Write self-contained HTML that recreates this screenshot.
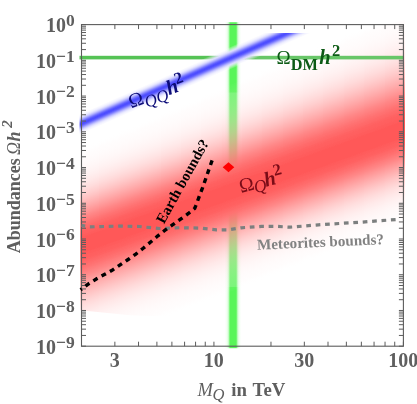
<!DOCTYPE html>
<html><head><meta charset="utf-8"><title>plot</title>
<style>html,body{margin:0;padding:0;background:#fff;}svg{display:block;}text{font-family:"Liberation Serif",serif;}</style></head><body>
<svg width="417" height="404" viewBox="0 0 417 404">
<defs>
<linearGradient id="gv" gradientUnits="userSpaceOnUse" x1="224.6" y1="0" x2="241.6" y2="0"><stop offset="0.0000" stop-color="#58f558" stop-opacity="0"/><stop offset="0.0882" stop-color="#58f558" stop-opacity="0.04"/><stop offset="0.1588" stop-color="#58f558" stop-opacity="0.12"/><stop offset="0.2235" stop-color="#58f558" stop-opacity="0.32"/><stop offset="0.2706" stop-color="#58f558" stop-opacity="0.62"/><stop offset="0.3059" stop-color="#58f558" stop-opacity="0.9"/><stop offset="0.3353" stop-color="#58f558" stop-opacity="1"/><stop offset="0.6647" stop-color="#58f558" stop-opacity="1"/><stop offset="0.6941" stop-color="#58f558" stop-opacity="0.9"/><stop offset="0.7294" stop-color="#58f558" stop-opacity="0.62"/><stop offset="0.7765" stop-color="#58f558" stop-opacity="0.32"/><stop offset="0.8412" stop-color="#58f558" stop-opacity="0.12"/><stop offset="0.9118" stop-color="#58f558" stop-opacity="0.04"/><stop offset="1.0000" stop-color="#58f558" stop-opacity="0"/></linearGradient>
<linearGradient id="r0" gradientUnits="userSpaceOnUse" x1="57.90" y1="155.42" x2="122.45" y2="336.22"><stop offset="0.0000" stop-color="#ffffff" stop-opacity="0"/><stop offset="0.0344" stop-color="rgb(255,228,228)" stop-opacity="0.082"/><stop offset="0.0688" stop-color="rgb(255,220,220)" stop-opacity="0.122"/><stop offset="0.1032" stop-color="rgb(255,210,210)" stop-opacity="0.176"/><stop offset="0.1377" stop-color="rgb(255,199,199)" stop-opacity="0.245"/><stop offset="0.1721" stop-color="rgb(255,187,187)" stop-opacity="0.331"/><stop offset="0.2065" stop-color="rgb(255,174,174)" stop-opacity="0.432"/><stop offset="0.2409" stop-color="rgb(255,160,160)" stop-opacity="0.545"/><stop offset="0.2753" stop-color="rgb(255,146,146)" stop-opacity="0.665"/><stop offset="0.3097" stop-color="rgb(255,134,134)" stop-opacity="0.786"/><stop offset="0.3441" stop-color="rgb(255,122,122)" stop-opacity="0.898"/><stop offset="0.3785" stop-color="rgb(255,113,113)" stop-opacity="0.992"/><stop offset="0.4130" stop-color="rgb(255,98,98)" stop-opacity="1.000"/><stop offset="0.4474" stop-color="rgb(255,89,89)" stop-opacity="1.000"/><stop offset="0.4818" stop-color="rgb(255,88,88)" stop-opacity="1.000"/><stop offset="0.5188" stop-color="rgb(255,89,89)" stop-opacity="1.000"/><stop offset="0.5558" stop-color="rgb(255,98,98)" stop-opacity="1.000"/><stop offset="0.5928" stop-color="rgb(255,113,113)" stop-opacity="0.992"/><stop offset="0.6298" stop-color="rgb(255,122,122)" stop-opacity="0.898"/><stop offset="0.6669" stop-color="rgb(255,134,134)" stop-opacity="0.786"/><stop offset="0.7039" stop-color="rgb(255,146,146)" stop-opacity="0.665"/><stop offset="0.7409" stop-color="rgb(255,160,160)" stop-opacity="0.545"/><stop offset="0.7779" stop-color="rgb(255,174,174)" stop-opacity="0.432"/><stop offset="0.8149" stop-color="rgb(255,187,187)" stop-opacity="0.331"/><stop offset="0.8519" stop-color="rgb(255,199,199)" stop-opacity="0.245"/><stop offset="0.8890" stop-color="rgb(255,210,210)" stop-opacity="0.176"/><stop offset="0.9260" stop-color="rgb(255,220,220)" stop-opacity="0.122"/><stop offset="0.9630" stop-color="rgb(255,228,228)" stop-opacity="0.082"/><stop offset="1.0000" stop-color="#ffffff" stop-opacity="0"/></linearGradient>
<linearGradient id="r1" gradientUnits="userSpaceOnUse" x1="77.94" y1="146.79" x2="142.72" y2="328.27"><stop offset="0.0000" stop-color="#ffffff" stop-opacity="0"/><stop offset="0.0348" stop-color="rgb(255,228,228)" stop-opacity="0.082"/><stop offset="0.0696" stop-color="rgb(255,220,220)" stop-opacity="0.122"/><stop offset="0.1044" stop-color="rgb(255,210,210)" stop-opacity="0.176"/><stop offset="0.1392" stop-color="rgb(255,199,199)" stop-opacity="0.245"/><stop offset="0.1740" stop-color="rgb(255,187,187)" stop-opacity="0.331"/><stop offset="0.2088" stop-color="rgb(255,174,174)" stop-opacity="0.432"/><stop offset="0.2436" stop-color="rgb(255,160,160)" stop-opacity="0.545"/><stop offset="0.2784" stop-color="rgb(255,146,146)" stop-opacity="0.665"/><stop offset="0.3132" stop-color="rgb(255,134,134)" stop-opacity="0.786"/><stop offset="0.3480" stop-color="rgb(255,122,122)" stop-opacity="0.898"/><stop offset="0.3828" stop-color="rgb(255,113,113)" stop-opacity="0.992"/><stop offset="0.4176" stop-color="rgb(255,98,98)" stop-opacity="1.000"/><stop offset="0.4524" stop-color="rgb(255,89,89)" stop-opacity="1.000"/><stop offset="0.4872" stop-color="rgb(255,88,88)" stop-opacity="1.000"/><stop offset="0.5238" stop-color="rgb(255,89,89)" stop-opacity="1.000"/><stop offset="0.5605" stop-color="rgb(255,98,98)" stop-opacity="1.000"/><stop offset="0.5971" stop-color="rgb(255,113,113)" stop-opacity="0.992"/><stop offset="0.6337" stop-color="rgb(255,122,122)" stop-opacity="0.898"/><stop offset="0.6703" stop-color="rgb(255,134,134)" stop-opacity="0.786"/><stop offset="0.7070" stop-color="rgb(255,146,146)" stop-opacity="0.665"/><stop offset="0.7436" stop-color="rgb(255,160,160)" stop-opacity="0.545"/><stop offset="0.7802" stop-color="rgb(255,174,174)" stop-opacity="0.432"/><stop offset="0.8169" stop-color="rgb(255,187,187)" stop-opacity="0.331"/><stop offset="0.8535" stop-color="rgb(255,199,199)" stop-opacity="0.245"/><stop offset="0.8901" stop-color="rgb(255,210,210)" stop-opacity="0.176"/><stop offset="0.9267" stop-color="rgb(255,220,220)" stop-opacity="0.122"/><stop offset="0.9634" stop-color="rgb(255,228,228)" stop-opacity="0.082"/><stop offset="1.0000" stop-color="#ffffff" stop-opacity="0"/></linearGradient>
<linearGradient id="r2" gradientUnits="userSpaceOnUse" x1="97.97" y1="138.16" x2="163.00" y2="320.32"><stop offset="0.0000" stop-color="#ffffff" stop-opacity="0"/><stop offset="0.0352" stop-color="rgb(255,228,228)" stop-opacity="0.082"/><stop offset="0.0704" stop-color="rgb(255,220,220)" stop-opacity="0.122"/><stop offset="0.1056" stop-color="rgb(255,210,210)" stop-opacity="0.176"/><stop offset="0.1407" stop-color="rgb(255,199,199)" stop-opacity="0.245"/><stop offset="0.1759" stop-color="rgb(255,187,187)" stop-opacity="0.331"/><stop offset="0.2111" stop-color="rgb(255,174,174)" stop-opacity="0.432"/><stop offset="0.2463" stop-color="rgb(255,160,160)" stop-opacity="0.545"/><stop offset="0.2815" stop-color="rgb(255,146,146)" stop-opacity="0.665"/><stop offset="0.3167" stop-color="rgb(255,134,134)" stop-opacity="0.786"/><stop offset="0.3518" stop-color="rgb(255,122,122)" stop-opacity="0.898"/><stop offset="0.3870" stop-color="rgb(255,113,113)" stop-opacity="0.992"/><stop offset="0.4222" stop-color="rgb(255,98,98)" stop-opacity="1.000"/><stop offset="0.4574" stop-color="rgb(255,89,89)" stop-opacity="1.000"/><stop offset="0.4926" stop-color="rgb(255,88,88)" stop-opacity="1.000"/><stop offset="0.5288" stop-color="rgb(255,89,89)" stop-opacity="1.000"/><stop offset="0.5651" stop-color="rgb(255,98,98)" stop-opacity="1.000"/><stop offset="0.6013" stop-color="rgb(255,113,113)" stop-opacity="0.992"/><stop offset="0.6376" stop-color="rgb(255,122,122)" stop-opacity="0.898"/><stop offset="0.6738" stop-color="rgb(255,134,134)" stop-opacity="0.786"/><stop offset="0.7100" stop-color="rgb(255,146,146)" stop-opacity="0.665"/><stop offset="0.7463" stop-color="rgb(255,160,160)" stop-opacity="0.545"/><stop offset="0.7825" stop-color="rgb(255,174,174)" stop-opacity="0.432"/><stop offset="0.8188" stop-color="rgb(255,187,187)" stop-opacity="0.331"/><stop offset="0.8550" stop-color="rgb(255,199,199)" stop-opacity="0.245"/><stop offset="0.8913" stop-color="rgb(255,210,210)" stop-opacity="0.176"/><stop offset="0.9275" stop-color="rgb(255,220,220)" stop-opacity="0.122"/><stop offset="0.9638" stop-color="rgb(255,228,228)" stop-opacity="0.082"/><stop offset="1.0000" stop-color="#ffffff" stop-opacity="0"/></linearGradient>
<linearGradient id="r3" gradientUnits="userSpaceOnUse" x1="118.00" y1="129.53" x2="183.27" y2="312.37"><stop offset="0.0000" stop-color="#ffffff" stop-opacity="0"/><stop offset="0.0356" stop-color="rgb(255,228,228)" stop-opacity="0.082"/><stop offset="0.0711" stop-color="rgb(255,220,220)" stop-opacity="0.122"/><stop offset="0.1067" stop-color="rgb(255,210,210)" stop-opacity="0.176"/><stop offset="0.1423" stop-color="rgb(255,199,199)" stop-opacity="0.245"/><stop offset="0.1778" stop-color="rgb(255,187,187)" stop-opacity="0.331"/><stop offset="0.2134" stop-color="rgb(255,174,174)" stop-opacity="0.432"/><stop offset="0.2490" stop-color="rgb(255,160,160)" stop-opacity="0.545"/><stop offset="0.2845" stop-color="rgb(255,146,146)" stop-opacity="0.665"/><stop offset="0.3201" stop-color="rgb(255,134,134)" stop-opacity="0.786"/><stop offset="0.3556" stop-color="rgb(255,122,122)" stop-opacity="0.898"/><stop offset="0.3912" stop-color="rgb(255,113,113)" stop-opacity="0.992"/><stop offset="0.4268" stop-color="rgb(255,98,98)" stop-opacity="1.000"/><stop offset="0.4623" stop-color="rgb(255,89,89)" stop-opacity="1.000"/><stop offset="0.4979" stop-color="rgb(255,88,88)" stop-opacity="1.000"/><stop offset="0.5338" stop-color="rgb(255,89,89)" stop-opacity="1.000"/><stop offset="0.5696" stop-color="rgb(255,98,98)" stop-opacity="1.000"/><stop offset="0.6055" stop-color="rgb(255,113,113)" stop-opacity="0.992"/><stop offset="0.6414" stop-color="rgb(255,122,122)" stop-opacity="0.898"/><stop offset="0.6772" stop-color="rgb(255,134,134)" stop-opacity="0.786"/><stop offset="0.7131" stop-color="rgb(255,146,146)" stop-opacity="0.665"/><stop offset="0.7490" stop-color="rgb(255,160,160)" stop-opacity="0.545"/><stop offset="0.7848" stop-color="rgb(255,174,174)" stop-opacity="0.432"/><stop offset="0.8207" stop-color="rgb(255,187,187)" stop-opacity="0.331"/><stop offset="0.8565" stop-color="rgb(255,199,199)" stop-opacity="0.245"/><stop offset="0.8924" stop-color="rgb(255,210,210)" stop-opacity="0.176"/><stop offset="0.9283" stop-color="rgb(255,220,220)" stop-opacity="0.122"/><stop offset="0.9641" stop-color="rgb(255,228,228)" stop-opacity="0.082"/><stop offset="1.0000" stop-color="#ffffff" stop-opacity="0"/></linearGradient>
<linearGradient id="r4" gradientUnits="userSpaceOnUse" x1="138.03" y1="120.91" x2="203.55" y2="304.42"><stop offset="0.0000" stop-color="#ffffff" stop-opacity="0"/><stop offset="0.0359" stop-color="rgb(255,228,228)" stop-opacity="0.082"/><stop offset="0.0719" stop-color="rgb(255,220,220)" stop-opacity="0.122"/><stop offset="0.1078" stop-color="rgb(255,210,210)" stop-opacity="0.176"/><stop offset="0.1438" stop-color="rgb(255,199,199)" stop-opacity="0.245"/><stop offset="0.1797" stop-color="rgb(255,187,187)" stop-opacity="0.331"/><stop offset="0.2157" stop-color="rgb(255,174,174)" stop-opacity="0.432"/><stop offset="0.2516" stop-color="rgb(255,160,160)" stop-opacity="0.545"/><stop offset="0.2875" stop-color="rgb(255,146,146)" stop-opacity="0.665"/><stop offset="0.3235" stop-color="rgb(255,134,134)" stop-opacity="0.786"/><stop offset="0.3594" stop-color="rgb(255,122,122)" stop-opacity="0.898"/><stop offset="0.3954" stop-color="rgb(255,113,113)" stop-opacity="0.992"/><stop offset="0.4313" stop-color="rgb(255,98,98)" stop-opacity="1.000"/><stop offset="0.4673" stop-color="rgb(255,89,89)" stop-opacity="1.000"/><stop offset="0.5032" stop-color="rgb(255,88,88)" stop-opacity="1.000"/><stop offset="0.5387" stop-color="rgb(255,89,89)" stop-opacity="1.000"/><stop offset="0.5742" stop-color="rgb(255,98,98)" stop-opacity="1.000"/><stop offset="0.6097" stop-color="rgb(255,113,113)" stop-opacity="0.992"/><stop offset="0.6451" stop-color="rgb(255,122,122)" stop-opacity="0.898"/><stop offset="0.6806" stop-color="rgb(255,134,134)" stop-opacity="0.786"/><stop offset="0.7161" stop-color="rgb(255,146,146)" stop-opacity="0.665"/><stop offset="0.7516" stop-color="rgb(255,160,160)" stop-opacity="0.545"/><stop offset="0.7871" stop-color="rgb(255,174,174)" stop-opacity="0.432"/><stop offset="0.8226" stop-color="rgb(255,187,187)" stop-opacity="0.331"/><stop offset="0.8581" stop-color="rgb(255,199,199)" stop-opacity="0.245"/><stop offset="0.8935" stop-color="rgb(255,210,210)" stop-opacity="0.176"/><stop offset="0.9290" stop-color="rgb(255,220,220)" stop-opacity="0.122"/><stop offset="0.9645" stop-color="rgb(255,228,228)" stop-opacity="0.082"/><stop offset="1.0000" stop-color="#ffffff" stop-opacity="0"/></linearGradient>
<linearGradient id="r5" gradientUnits="userSpaceOnUse" x1="157.58" y1="112.49" x2="223.33" y2="296.66"><stop offset="0.0000" stop-color="#ffffff" stop-opacity="0"/><stop offset="0.0363" stop-color="rgb(255,228,228)" stop-opacity="0.082"/><stop offset="0.0726" stop-color="rgb(255,220,220)" stop-opacity="0.122"/><stop offset="0.1089" stop-color="rgb(255,210,210)" stop-opacity="0.176"/><stop offset="0.1452" stop-color="rgb(255,199,199)" stop-opacity="0.245"/><stop offset="0.1815" stop-color="rgb(255,187,187)" stop-opacity="0.331"/><stop offset="0.2179" stop-color="rgb(255,174,174)" stop-opacity="0.432"/><stop offset="0.2542" stop-color="rgb(255,160,160)" stop-opacity="0.545"/><stop offset="0.2905" stop-color="rgb(255,146,146)" stop-opacity="0.665"/><stop offset="0.3268" stop-color="rgb(255,134,134)" stop-opacity="0.786"/><stop offset="0.3631" stop-color="rgb(255,122,122)" stop-opacity="0.898"/><stop offset="0.3994" stop-color="rgb(255,113,113)" stop-opacity="0.992"/><stop offset="0.4357" stop-color="rgb(255,98,98)" stop-opacity="1.000"/><stop offset="0.4720" stop-color="rgb(255,89,89)" stop-opacity="1.000"/><stop offset="0.5083" stop-color="rgb(255,88,88)" stop-opacity="1.000"/><stop offset="0.5435" stop-color="rgb(255,89,89)" stop-opacity="1.000"/><stop offset="0.5786" stop-color="rgb(255,98,98)" stop-opacity="1.000"/><stop offset="0.6137" stop-color="rgb(255,113,113)" stop-opacity="0.992"/><stop offset="0.6488" stop-color="rgb(255,122,122)" stop-opacity="0.898"/><stop offset="0.6839" stop-color="rgb(255,134,134)" stop-opacity="0.786"/><stop offset="0.7190" stop-color="rgb(255,146,146)" stop-opacity="0.665"/><stop offset="0.7542" stop-color="rgb(255,160,160)" stop-opacity="0.545"/><stop offset="0.7893" stop-color="rgb(255,174,174)" stop-opacity="0.432"/><stop offset="0.8244" stop-color="rgb(255,187,187)" stop-opacity="0.331"/><stop offset="0.8595" stop-color="rgb(255,199,199)" stop-opacity="0.245"/><stop offset="0.8946" stop-color="rgb(255,210,210)" stop-opacity="0.176"/><stop offset="0.9298" stop-color="rgb(255,220,220)" stop-opacity="0.122"/><stop offset="0.9649" stop-color="rgb(255,228,228)" stop-opacity="0.082"/><stop offset="1.0000" stop-color="#ffffff" stop-opacity="0"/></linearGradient>
<linearGradient id="r6" gradientUnits="userSpaceOnUse" x1="177.61" y1="103.86" x2="243.60" y2="288.71"><stop offset="0.0000" stop-color="#ffffff" stop-opacity="0"/><stop offset="0.0367" stop-color="rgb(255,228,228)" stop-opacity="0.082"/><stop offset="0.0734" stop-color="rgb(255,220,220)" stop-opacity="0.122"/><stop offset="0.1100" stop-color="rgb(255,210,210)" stop-opacity="0.176"/><stop offset="0.1467" stop-color="rgb(255,199,199)" stop-opacity="0.245"/><stop offset="0.1834" stop-color="rgb(255,187,187)" stop-opacity="0.331"/><stop offset="0.2201" stop-color="rgb(255,174,174)" stop-opacity="0.432"/><stop offset="0.2568" stop-color="rgb(255,160,160)" stop-opacity="0.545"/><stop offset="0.2935" stop-color="rgb(255,146,146)" stop-opacity="0.665"/><stop offset="0.3301" stop-color="rgb(255,134,134)" stop-opacity="0.786"/><stop offset="0.3668" stop-color="rgb(255,122,122)" stop-opacity="0.898"/><stop offset="0.4035" stop-color="rgb(255,113,113)" stop-opacity="0.992"/><stop offset="0.4402" stop-color="rgb(255,98,98)" stop-opacity="1.000"/><stop offset="0.4769" stop-color="rgb(255,89,89)" stop-opacity="1.000"/><stop offset="0.5136" stop-color="rgb(255,88,88)" stop-opacity="1.000"/><stop offset="0.5483" stop-color="rgb(255,89,89)" stop-opacity="1.000"/><stop offset="0.5830" stop-color="rgb(255,98,98)" stop-opacity="1.000"/><stop offset="0.6178" stop-color="rgb(255,113,113)" stop-opacity="0.992"/><stop offset="0.6525" stop-color="rgb(255,122,122)" stop-opacity="0.898"/><stop offset="0.6873" stop-color="rgb(255,134,134)" stop-opacity="0.786"/><stop offset="0.7220" stop-color="rgb(255,146,146)" stop-opacity="0.665"/><stop offset="0.7568" stop-color="rgb(255,160,160)" stop-opacity="0.545"/><stop offset="0.7915" stop-color="rgb(255,174,174)" stop-opacity="0.432"/><stop offset="0.8263" stop-color="rgb(255,187,187)" stop-opacity="0.331"/><stop offset="0.8610" stop-color="rgb(255,199,199)" stop-opacity="0.245"/><stop offset="0.8958" stop-color="rgb(255,210,210)" stop-opacity="0.176"/><stop offset="0.9305" stop-color="rgb(255,220,220)" stop-opacity="0.122"/><stop offset="0.9653" stop-color="rgb(255,228,228)" stop-opacity="0.082"/><stop offset="1.0000" stop-color="#ffffff" stop-opacity="0"/></linearGradient>
<linearGradient id="r7" gradientUnits="userSpaceOnUse" x1="197.64" y1="95.23" x2="263.88" y2="280.76"><stop offset="0.0000" stop-color="#ffffff" stop-opacity="0"/><stop offset="0.0371" stop-color="rgb(255,228,228)" stop-opacity="0.082"/><stop offset="0.0741" stop-color="rgb(255,220,220)" stop-opacity="0.122"/><stop offset="0.1112" stop-color="rgb(255,210,210)" stop-opacity="0.176"/><stop offset="0.1482" stop-color="rgb(255,199,199)" stop-opacity="0.245"/><stop offset="0.1853" stop-color="rgb(255,187,187)" stop-opacity="0.331"/><stop offset="0.2223" stop-color="rgb(255,174,174)" stop-opacity="0.432"/><stop offset="0.2594" stop-color="rgb(255,160,160)" stop-opacity="0.545"/><stop offset="0.2964" stop-color="rgb(255,146,146)" stop-opacity="0.665"/><stop offset="0.3335" stop-color="rgb(255,134,134)" stop-opacity="0.786"/><stop offset="0.3705" stop-color="rgb(255,122,122)" stop-opacity="0.898"/><stop offset="0.4076" stop-color="rgb(255,113,113)" stop-opacity="0.992"/><stop offset="0.4446" stop-color="rgb(255,98,98)" stop-opacity="1.000"/><stop offset="0.4817" stop-color="rgb(255,89,89)" stop-opacity="1.000"/><stop offset="0.5187" stop-color="rgb(255,88,88)" stop-opacity="1.000"/><stop offset="0.5531" stop-color="rgb(255,89,89)" stop-opacity="1.000"/><stop offset="0.5875" stop-color="rgb(255,98,98)" stop-opacity="1.000"/><stop offset="0.6219" stop-color="rgb(255,113,113)" stop-opacity="0.992"/><stop offset="0.6562" stop-color="rgb(255,122,122)" stop-opacity="0.898"/><stop offset="0.6906" stop-color="rgb(255,134,134)" stop-opacity="0.786"/><stop offset="0.7250" stop-color="rgb(255,146,146)" stop-opacity="0.665"/><stop offset="0.7594" stop-color="rgb(255,160,160)" stop-opacity="0.545"/><stop offset="0.7937" stop-color="rgb(255,174,174)" stop-opacity="0.432"/><stop offset="0.8281" stop-color="rgb(255,187,187)" stop-opacity="0.331"/><stop offset="0.8625" stop-color="rgb(255,199,199)" stop-opacity="0.245"/><stop offset="0.8969" stop-color="rgb(255,210,210)" stop-opacity="0.176"/><stop offset="0.9312" stop-color="rgb(255,220,220)" stop-opacity="0.122"/><stop offset="0.9656" stop-color="rgb(255,228,228)" stop-opacity="0.082"/><stop offset="1.0000" stop-color="#ffffff" stop-opacity="0"/></linearGradient>
<linearGradient id="r8" gradientUnits="userSpaceOnUse" x1="217.19" y1="86.82" x2="283.66" y2="273.00"><stop offset="0.0000" stop-color="#ffffff" stop-opacity="0"/><stop offset="0.0374" stop-color="rgb(255,228,228)" stop-opacity="0.082"/><stop offset="0.0748" stop-color="rgb(255,220,220)" stop-opacity="0.122"/><stop offset="0.1122" stop-color="rgb(255,210,210)" stop-opacity="0.176"/><stop offset="0.1496" stop-color="rgb(255,199,199)" stop-opacity="0.245"/><stop offset="0.1871" stop-color="rgb(255,187,187)" stop-opacity="0.331"/><stop offset="0.2245" stop-color="rgb(255,174,174)" stop-opacity="0.432"/><stop offset="0.2619" stop-color="rgb(255,160,160)" stop-opacity="0.545"/><stop offset="0.2993" stop-color="rgb(255,146,146)" stop-opacity="0.665"/><stop offset="0.3367" stop-color="rgb(255,134,134)" stop-opacity="0.786"/><stop offset="0.3741" stop-color="rgb(255,122,122)" stop-opacity="0.898"/><stop offset="0.4115" stop-color="rgb(255,113,113)" stop-opacity="0.992"/><stop offset="0.4489" stop-color="rgb(255,98,98)" stop-opacity="1.000"/><stop offset="0.4863" stop-color="rgb(255,89,89)" stop-opacity="1.000"/><stop offset="0.5238" stop-color="rgb(255,88,88)" stop-opacity="1.000"/><stop offset="0.5578" stop-color="rgb(255,89,89)" stop-opacity="1.000"/><stop offset="0.5918" stop-color="rgb(255,98,98)" stop-opacity="1.000"/><stop offset="0.6258" stop-color="rgb(255,113,113)" stop-opacity="0.992"/><stop offset="0.6598" stop-color="rgb(255,122,122)" stop-opacity="0.898"/><stop offset="0.6938" stop-color="rgb(255,134,134)" stop-opacity="0.786"/><stop offset="0.7279" stop-color="rgb(255,146,146)" stop-opacity="0.665"/><stop offset="0.7619" stop-color="rgb(255,160,160)" stop-opacity="0.545"/><stop offset="0.7959" stop-color="rgb(255,174,174)" stop-opacity="0.432"/><stop offset="0.8299" stop-color="rgb(255,187,187)" stop-opacity="0.331"/><stop offset="0.8639" stop-color="rgb(255,199,199)" stop-opacity="0.245"/><stop offset="0.8979" stop-color="rgb(255,210,210)" stop-opacity="0.176"/><stop offset="0.9320" stop-color="rgb(255,220,220)" stop-opacity="0.122"/><stop offset="0.9660" stop-color="rgb(255,228,228)" stop-opacity="0.082"/><stop offset="1.0000" stop-color="#ffffff" stop-opacity="0"/></linearGradient>
<linearGradient id="r9" gradientUnits="userSpaceOnUse" x1="237.22" y1="78.19" x2="303.93" y2="265.05"><stop offset="0.0000" stop-color="#ffffff" stop-opacity="0"/><stop offset="0.0378" stop-color="rgb(255,228,228)" stop-opacity="0.082"/><stop offset="0.0756" stop-color="rgb(255,220,220)" stop-opacity="0.122"/><stop offset="0.1133" stop-color="rgb(255,210,210)" stop-opacity="0.176"/><stop offset="0.1511" stop-color="rgb(255,199,199)" stop-opacity="0.245"/><stop offset="0.1889" stop-color="rgb(255,187,187)" stop-opacity="0.331"/><stop offset="0.2267" stop-color="rgb(255,174,174)" stop-opacity="0.432"/><stop offset="0.2644" stop-color="rgb(255,160,160)" stop-opacity="0.545"/><stop offset="0.3022" stop-color="rgb(255,146,146)" stop-opacity="0.665"/><stop offset="0.3400" stop-color="rgb(255,134,134)" stop-opacity="0.786"/><stop offset="0.3778" stop-color="rgb(255,122,122)" stop-opacity="0.898"/><stop offset="0.4155" stop-color="rgb(255,113,113)" stop-opacity="0.992"/><stop offset="0.4533" stop-color="rgb(255,98,98)" stop-opacity="1.000"/><stop offset="0.4911" stop-color="rgb(255,89,89)" stop-opacity="1.000"/><stop offset="0.5289" stop-color="rgb(255,88,88)" stop-opacity="1.000"/><stop offset="0.5625" stop-color="rgb(255,89,89)" stop-opacity="1.000"/><stop offset="0.5962" stop-color="rgb(255,98,98)" stop-opacity="1.000"/><stop offset="0.6298" stop-color="rgb(255,113,113)" stop-opacity="0.992"/><stop offset="0.6635" stop-color="rgb(255,122,122)" stop-opacity="0.898"/><stop offset="0.6971" stop-color="rgb(255,134,134)" stop-opacity="0.786"/><stop offset="0.7308" stop-color="rgb(255,146,146)" stop-opacity="0.665"/><stop offset="0.7644" stop-color="rgb(255,160,160)" stop-opacity="0.545"/><stop offset="0.7981" stop-color="rgb(255,174,174)" stop-opacity="0.432"/><stop offset="0.8317" stop-color="rgb(255,187,187)" stop-opacity="0.331"/><stop offset="0.8654" stop-color="rgb(255,199,199)" stop-opacity="0.245"/><stop offset="0.8990" stop-color="rgb(255,210,210)" stop-opacity="0.176"/><stop offset="0.9327" stop-color="rgb(255,220,220)" stop-opacity="0.122"/><stop offset="0.9663" stop-color="rgb(255,228,228)" stop-opacity="0.082"/><stop offset="1.0000" stop-color="#ffffff" stop-opacity="0"/></linearGradient>
<linearGradient id="r10" gradientUnits="userSpaceOnUse" x1="257.25" y1="69.56" x2="324.20" y2="257.10"><stop offset="0.0000" stop-color="#ffffff" stop-opacity="0"/><stop offset="0.0381" stop-color="rgb(255,228,228)" stop-opacity="0.082"/><stop offset="0.0763" stop-color="rgb(255,220,220)" stop-opacity="0.122"/><stop offset="0.1144" stop-color="rgb(255,210,210)" stop-opacity="0.176"/><stop offset="0.1526" stop-color="rgb(255,199,199)" stop-opacity="0.245"/><stop offset="0.1907" stop-color="rgb(255,187,187)" stop-opacity="0.331"/><stop offset="0.2288" stop-color="rgb(255,174,174)" stop-opacity="0.432"/><stop offset="0.2670" stop-color="rgb(255,160,160)" stop-opacity="0.545"/><stop offset="0.3051" stop-color="rgb(255,146,146)" stop-opacity="0.665"/><stop offset="0.3432" stop-color="rgb(255,134,134)" stop-opacity="0.786"/><stop offset="0.3814" stop-color="rgb(255,122,122)" stop-opacity="0.898"/><stop offset="0.4195" stop-color="rgb(255,113,113)" stop-opacity="0.992"/><stop offset="0.4577" stop-color="rgb(255,98,98)" stop-opacity="1.000"/><stop offset="0.4958" stop-color="rgb(255,89,89)" stop-opacity="1.000"/><stop offset="0.5339" stop-color="rgb(255,88,88)" stop-opacity="1.000"/><stop offset="0.5672" stop-color="rgb(255,89,89)" stop-opacity="1.000"/><stop offset="0.6005" stop-color="rgb(255,98,98)" stop-opacity="1.000"/><stop offset="0.6338" stop-color="rgb(255,113,113)" stop-opacity="0.992"/><stop offset="0.6671" stop-color="rgb(255,122,122)" stop-opacity="0.898"/><stop offset="0.7004" stop-color="rgb(255,134,134)" stop-opacity="0.786"/><stop offset="0.7337" stop-color="rgb(255,146,146)" stop-opacity="0.665"/><stop offset="0.7670" stop-color="rgb(255,160,160)" stop-opacity="0.545"/><stop offset="0.8003" stop-color="rgb(255,174,174)" stop-opacity="0.432"/><stop offset="0.8335" stop-color="rgb(255,187,187)" stop-opacity="0.331"/><stop offset="0.8668" stop-color="rgb(255,199,199)" stop-opacity="0.245"/><stop offset="0.9001" stop-color="rgb(255,210,210)" stop-opacity="0.176"/><stop offset="0.9334" stop-color="rgb(255,220,220)" stop-opacity="0.122"/><stop offset="0.9667" stop-color="rgb(255,228,228)" stop-opacity="0.082"/><stop offset="1.0000" stop-color="#ffffff" stop-opacity="0"/></linearGradient>
<linearGradient id="r11" gradientUnits="userSpaceOnUse" x1="276.80" y1="61.14" x2="343.98" y2="249.35"><stop offset="0.0000" stop-color="#ffffff" stop-opacity="0"/><stop offset="0.0385" stop-color="rgb(255,228,228)" stop-opacity="0.082"/><stop offset="0.0770" stop-color="rgb(255,220,220)" stop-opacity="0.122"/><stop offset="0.1155" stop-color="rgb(255,210,210)" stop-opacity="0.176"/><stop offset="0.1540" stop-color="rgb(255,199,199)" stop-opacity="0.245"/><stop offset="0.1924" stop-color="rgb(255,187,187)" stop-opacity="0.331"/><stop offset="0.2309" stop-color="rgb(255,174,174)" stop-opacity="0.432"/><stop offset="0.2694" stop-color="rgb(255,160,160)" stop-opacity="0.545"/><stop offset="0.3079" stop-color="rgb(255,146,146)" stop-opacity="0.665"/><stop offset="0.3464" stop-color="rgb(255,134,134)" stop-opacity="0.786"/><stop offset="0.3849" stop-color="rgb(255,122,122)" stop-opacity="0.898"/><stop offset="0.4234" stop-color="rgb(255,113,113)" stop-opacity="0.992"/><stop offset="0.4619" stop-color="rgb(255,98,98)" stop-opacity="1.000"/><stop offset="0.5004" stop-color="rgb(255,89,89)" stop-opacity="1.000"/><stop offset="0.5388" stop-color="rgb(255,88,88)" stop-opacity="1.000"/><stop offset="0.5718" stop-color="rgb(255,89,89)" stop-opacity="1.000"/><stop offset="0.6047" stop-color="rgb(255,98,98)" stop-opacity="1.000"/><stop offset="0.6377" stop-color="rgb(255,113,113)" stop-opacity="0.992"/><stop offset="0.6706" stop-color="rgb(255,122,122)" stop-opacity="0.898"/><stop offset="0.7035" stop-color="rgb(255,134,134)" stop-opacity="0.786"/><stop offset="0.7365" stop-color="rgb(255,146,146)" stop-opacity="0.665"/><stop offset="0.7694" stop-color="rgb(255,160,160)" stop-opacity="0.545"/><stop offset="0.8024" stop-color="rgb(255,174,174)" stop-opacity="0.432"/><stop offset="0.8353" stop-color="rgb(255,187,187)" stop-opacity="0.331"/><stop offset="0.8682" stop-color="rgb(255,199,199)" stop-opacity="0.245"/><stop offset="0.9012" stop-color="rgb(255,210,210)" stop-opacity="0.176"/><stop offset="0.9341" stop-color="rgb(255,220,220)" stop-opacity="0.122"/><stop offset="0.9671" stop-color="rgb(255,228,228)" stop-opacity="0.082"/><stop offset="1.0000" stop-color="#ffffff" stop-opacity="0"/></linearGradient>
<linearGradient id="r12" gradientUnits="userSpaceOnUse" x1="296.83" y1="52.52" x2="364.26" y2="241.40"><stop offset="0.0000" stop-color="#ffffff" stop-opacity="0"/><stop offset="0.0388" stop-color="rgb(255,228,228)" stop-opacity="0.082"/><stop offset="0.0777" stop-color="rgb(255,220,220)" stop-opacity="0.122"/><stop offset="0.1165" stop-color="rgb(255,210,210)" stop-opacity="0.176"/><stop offset="0.1554" stop-color="rgb(255,199,199)" stop-opacity="0.245"/><stop offset="0.1942" stop-color="rgb(255,187,187)" stop-opacity="0.331"/><stop offset="0.2331" stop-color="rgb(255,174,174)" stop-opacity="0.432"/><stop offset="0.2719" stop-color="rgb(255,160,160)" stop-opacity="0.545"/><stop offset="0.3108" stop-color="rgb(255,146,146)" stop-opacity="0.665"/><stop offset="0.3496" stop-color="rgb(255,134,134)" stop-opacity="0.786"/><stop offset="0.3885" stop-color="rgb(255,122,122)" stop-opacity="0.898"/><stop offset="0.4273" stop-color="rgb(255,113,113)" stop-opacity="0.992"/><stop offset="0.4661" stop-color="rgb(255,98,98)" stop-opacity="1.000"/><stop offset="0.5050" stop-color="rgb(255,89,89)" stop-opacity="1.000"/><stop offset="0.5438" stop-color="rgb(255,88,88)" stop-opacity="1.000"/><stop offset="0.5764" stop-color="rgb(255,89,89)" stop-opacity="1.000"/><stop offset="0.6090" stop-color="rgb(255,98,98)" stop-opacity="1.000"/><stop offset="0.6416" stop-color="rgb(255,113,113)" stop-opacity="0.992"/><stop offset="0.6742" stop-color="rgb(255,122,122)" stop-opacity="0.898"/><stop offset="0.7068" stop-color="rgb(255,134,134)" stop-opacity="0.786"/><stop offset="0.7393" stop-color="rgb(255,146,146)" stop-opacity="0.665"/><stop offset="0.7719" stop-color="rgb(255,160,160)" stop-opacity="0.545"/><stop offset="0.8045" stop-color="rgb(255,174,174)" stop-opacity="0.432"/><stop offset="0.8371" stop-color="rgb(255,187,187)" stop-opacity="0.331"/><stop offset="0.8697" stop-color="rgb(255,199,199)" stop-opacity="0.245"/><stop offset="0.9023" stop-color="rgb(255,210,210)" stop-opacity="0.176"/><stop offset="0.9348" stop-color="rgb(255,220,220)" stop-opacity="0.122"/><stop offset="0.9674" stop-color="rgb(255,228,228)" stop-opacity="0.082"/><stop offset="1.0000" stop-color="#ffffff" stop-opacity="0"/></linearGradient>
<linearGradient id="r13" gradientUnits="userSpaceOnUse" x1="316.86" y1="43.89" x2="384.53" y2="233.45"><stop offset="0.0000" stop-color="#ffffff" stop-opacity="0"/><stop offset="0.0392" stop-color="rgb(255,228,228)" stop-opacity="0.082"/><stop offset="0.0784" stop-color="rgb(255,220,220)" stop-opacity="0.122"/><stop offset="0.1176" stop-color="rgb(255,210,210)" stop-opacity="0.176"/><stop offset="0.1568" stop-color="rgb(255,199,199)" stop-opacity="0.245"/><stop offset="0.1960" stop-color="rgb(255,187,187)" stop-opacity="0.331"/><stop offset="0.2352" stop-color="rgb(255,174,174)" stop-opacity="0.432"/><stop offset="0.2744" stop-color="rgb(255,160,160)" stop-opacity="0.545"/><stop offset="0.3136" stop-color="rgb(255,146,146)" stop-opacity="0.665"/><stop offset="0.3528" stop-color="rgb(255,134,134)" stop-opacity="0.786"/><stop offset="0.3920" stop-color="rgb(255,122,122)" stop-opacity="0.898"/><stop offset="0.4312" stop-color="rgb(255,113,113)" stop-opacity="0.992"/><stop offset="0.4704" stop-color="rgb(255,98,98)" stop-opacity="1.000"/><stop offset="0.5096" stop-color="rgb(255,89,89)" stop-opacity="1.000"/><stop offset="0.5488" stop-color="rgb(255,88,88)" stop-opacity="1.000"/><stop offset="0.5810" stop-color="rgb(255,89,89)" stop-opacity="1.000"/><stop offset="0.6133" stop-color="rgb(255,98,98)" stop-opacity="1.000"/><stop offset="0.6455" stop-color="rgb(255,113,113)" stop-opacity="0.992"/><stop offset="0.6777" stop-color="rgb(255,122,122)" stop-opacity="0.898"/><stop offset="0.7099" stop-color="rgb(255,134,134)" stop-opacity="0.786"/><stop offset="0.7422" stop-color="rgb(255,146,146)" stop-opacity="0.665"/><stop offset="0.7744" stop-color="rgb(255,160,160)" stop-opacity="0.545"/><stop offset="0.8066" stop-color="rgb(255,174,174)" stop-opacity="0.432"/><stop offset="0.8389" stop-color="rgb(255,187,187)" stop-opacity="0.331"/><stop offset="0.8711" stop-color="rgb(255,199,199)" stop-opacity="0.245"/><stop offset="0.9033" stop-color="rgb(255,210,210)" stop-opacity="0.176"/><stop offset="0.9355" stop-color="rgb(255,220,220)" stop-opacity="0.122"/><stop offset="0.9678" stop-color="rgb(255,228,228)" stop-opacity="0.082"/><stop offset="1.0000" stop-color="#ffffff" stop-opacity="0"/></linearGradient>
<linearGradient id="r14" gradientUnits="userSpaceOnUse" x1="336.89" y1="35.26" x2="404.81" y2="225.50"><stop offset="0.0000" stop-color="#ffffff" stop-opacity="0"/><stop offset="0.0396" stop-color="rgb(255,228,228)" stop-opacity="0.082"/><stop offset="0.0791" stop-color="rgb(255,220,220)" stop-opacity="0.122"/><stop offset="0.1187" stop-color="rgb(255,210,210)" stop-opacity="0.176"/><stop offset="0.1582" stop-color="rgb(255,199,199)" stop-opacity="0.245"/><stop offset="0.1978" stop-color="rgb(255,187,187)" stop-opacity="0.331"/><stop offset="0.2373" stop-color="rgb(255,174,174)" stop-opacity="0.432"/><stop offset="0.2769" stop-color="rgb(255,160,160)" stop-opacity="0.545"/><stop offset="0.3164" stop-color="rgb(255,146,146)" stop-opacity="0.665"/><stop offset="0.3560" stop-color="rgb(255,134,134)" stop-opacity="0.786"/><stop offset="0.3955" stop-color="rgb(255,122,122)" stop-opacity="0.898"/><stop offset="0.4351" stop-color="rgb(255,113,113)" stop-opacity="0.992"/><stop offset="0.4746" stop-color="rgb(255,98,98)" stop-opacity="1.000"/><stop offset="0.5142" stop-color="rgb(255,89,89)" stop-opacity="1.000"/><stop offset="0.5537" stop-color="rgb(255,88,88)" stop-opacity="1.000"/><stop offset="0.5856" stop-color="rgb(255,89,89)" stop-opacity="1.000"/><stop offset="0.6175" stop-color="rgb(255,98,98)" stop-opacity="1.000"/><stop offset="0.6494" stop-color="rgb(255,113,113)" stop-opacity="0.992"/><stop offset="0.6812" stop-color="rgb(255,122,122)" stop-opacity="0.898"/><stop offset="0.7131" stop-color="rgb(255,134,134)" stop-opacity="0.786"/><stop offset="0.7450" stop-color="rgb(255,146,146)" stop-opacity="0.665"/><stop offset="0.7769" stop-color="rgb(255,160,160)" stop-opacity="0.545"/><stop offset="0.8087" stop-color="rgb(255,174,174)" stop-opacity="0.432"/><stop offset="0.8406" stop-color="rgb(255,187,187)" stop-opacity="0.331"/><stop offset="0.8725" stop-color="rgb(255,199,199)" stop-opacity="0.245"/><stop offset="0.9044" stop-color="rgb(255,210,210)" stop-opacity="0.176"/><stop offset="0.9362" stop-color="rgb(255,220,220)" stop-opacity="0.122"/><stop offset="0.9681" stop-color="rgb(255,228,228)" stop-opacity="0.082"/><stop offset="1.0000" stop-color="#ffffff" stop-opacity="0"/></linearGradient>
<linearGradient id="r15" gradientUnits="userSpaceOnUse" x1="356.93" y1="26.63" x2="425.08" y2="217.55"><stop offset="0.0000" stop-color="#ffffff" stop-opacity="0"/><stop offset="0.0399" stop-color="rgb(255,228,228)" stop-opacity="0.082"/><stop offset="0.0798" stop-color="rgb(255,220,220)" stop-opacity="0.122"/><stop offset="0.1197" stop-color="rgb(255,210,210)" stop-opacity="0.176"/><stop offset="0.1596" stop-color="rgb(255,199,199)" stop-opacity="0.245"/><stop offset="0.1995" stop-color="rgb(255,187,187)" stop-opacity="0.331"/><stop offset="0.2394" stop-color="rgb(255,174,174)" stop-opacity="0.432"/><stop offset="0.2793" stop-color="rgb(255,160,160)" stop-opacity="0.545"/><stop offset="0.3192" stop-color="rgb(255,146,146)" stop-opacity="0.665"/><stop offset="0.3591" stop-color="rgb(255,134,134)" stop-opacity="0.786"/><stop offset="0.3990" stop-color="rgb(255,122,122)" stop-opacity="0.898"/><stop offset="0.4389" stop-color="rgb(255,113,113)" stop-opacity="0.992"/><stop offset="0.4788" stop-color="rgb(255,98,98)" stop-opacity="1.000"/><stop offset="0.5187" stop-color="rgb(255,89,89)" stop-opacity="1.000"/><stop offset="0.5586" stop-color="rgb(255,88,88)" stop-opacity="1.000"/><stop offset="0.5901" stop-color="rgb(255,89,89)" stop-opacity="1.000"/><stop offset="0.6217" stop-color="rgb(255,98,98)" stop-opacity="1.000"/><stop offset="0.6532" stop-color="rgb(255,113,113)" stop-opacity="0.992"/><stop offset="0.6847" stop-color="rgb(255,122,122)" stop-opacity="0.898"/><stop offset="0.7163" stop-color="rgb(255,134,134)" stop-opacity="0.786"/><stop offset="0.7478" stop-color="rgb(255,146,146)" stop-opacity="0.665"/><stop offset="0.7793" stop-color="rgb(255,160,160)" stop-opacity="0.545"/><stop offset="0.8108" stop-color="rgb(255,174,174)" stop-opacity="0.432"/><stop offset="0.8424" stop-color="rgb(255,187,187)" stop-opacity="0.331"/><stop offset="0.8739" stop-color="rgb(255,199,199)" stop-opacity="0.245"/><stop offset="0.9054" stop-color="rgb(255,210,210)" stop-opacity="0.176"/><stop offset="0.9369" stop-color="rgb(255,220,220)" stop-opacity="0.122"/><stop offset="0.9685" stop-color="rgb(255,228,228)" stop-opacity="0.082"/><stop offset="1.0000" stop-color="#ffffff" stop-opacity="0"/></linearGradient>
<linearGradient id="gbw" x1="0" y1="0" x2="0" y2="1"><stop offset="0" stop-color="#fff" stop-opacity="0"/><stop offset="0.22" stop-color="#fff" stop-opacity="1"/><stop offset="0.78" stop-color="#fff" stop-opacity="1"/><stop offset="1" stop-color="#fff" stop-opacity="0"/></linearGradient>
<linearGradient id="gb" x1="0" y1="0" x2="0" y2="1"><stop offset="0.000" stop-color="#4c4cff" stop-opacity="0.000"/><stop offset="0.050" stop-color="#4c4cff" stop-opacity="0.031"/><stop offset="0.100" stop-color="#4c4cff" stop-opacity="0.065"/><stop offset="0.150" stop-color="#4c4cff" stop-opacity="0.123"/><stop offset="0.200" stop-color="#4c4cff" stop-opacity="0.215"/><stop offset="0.250" stop-color="#4c4cff" stop-opacity="0.344"/><stop offset="0.300" stop-color="#4c4cff" stop-opacity="0.505"/><stop offset="0.350" stop-color="#4c4cff" stop-opacity="0.681"/><stop offset="0.400" stop-color="#4c4cff" stop-opacity="0.843"/><stop offset="0.450" stop-color="#4c4cff" stop-opacity="0.958"/><stop offset="0.500" stop-color="#4c4cff" stop-opacity="1.000"/><stop offset="0.550" stop-color="#4c4cff" stop-opacity="0.958"/><stop offset="0.600" stop-color="#4c4cff" stop-opacity="0.843"/><stop offset="0.650" stop-color="#4c4cff" stop-opacity="0.681"/><stop offset="0.700" stop-color="#4c4cff" stop-opacity="0.505"/><stop offset="0.750" stop-color="#4c4cff" stop-opacity="0.344"/><stop offset="0.800" stop-color="#4c4cff" stop-opacity="0.215"/><stop offset="0.850" stop-color="#4c4cff" stop-opacity="0.123"/><stop offset="0.900" stop-color="#4c4cff" stop-opacity="0.065"/><stop offset="0.950" stop-color="#4c4cff" stop-opacity="0.031"/><stop offset="1.000" stop-color="#4c4cff" stop-opacity="0.000"/></linearGradient>
<clipPath id="cb"><rect x="79.6" y="33" width="324.79999999999995" height="300"/></clipPath>
<clipPath id="cr"><polygon points="80.3,120 233,70 300,45 405,20 405,300 260,319 210,318.5 174,317 130,315.3 110,313.3 80.3,310.2"/></clipPath>
<filter id="soft" x="0" y="0" width="417" height="404" filterUnits="userSpaceOnUse"><feGaussianBlur stdDeviation="0.38"/></filter>
</defs>
<rect width="417" height="404" fill="#fff"/>
<g filter="url(#soft)">
<rect width="417" height="404" fill="#fff"/>
<rect x="224.6" y="22.2" width="17" height="326" fill="url(#gv)"/>
<rect x="224" y="92.5" width="18" height="194.5" fill="#fff" fill-opacity="0.16"/>
<g clip-path="url(#cr)"><rect x="79.00" y="20" width="20.00" height="330" shape-rendering="crispEdges" fill="url(#r0)"/><rect x="99.00" y="20" width="21.00" height="330" shape-rendering="crispEdges" fill="url(#r1)"/><rect x="120.00" y="20" width="20.00" height="330" shape-rendering="crispEdges" fill="url(#r2)"/><rect x="140.00" y="20" width="21.00" height="330" shape-rendering="crispEdges" fill="url(#r3)"/><rect x="161.00" y="20" width="20.00" height="330" shape-rendering="crispEdges" fill="url(#r4)"/><rect x="181.00" y="20" width="20.00" height="330" shape-rendering="crispEdges" fill="url(#r5)"/><rect x="201.00" y="20" width="21.00" height="330" shape-rendering="crispEdges" fill="url(#r6)"/><rect x="222.00" y="20" width="20.00" height="330" shape-rendering="crispEdges" fill="url(#r7)"/><rect x="242.00" y="20" width="20.00" height="330" shape-rendering="crispEdges" fill="url(#r8)"/><rect x="262.00" y="20" width="21.00" height="330" shape-rendering="crispEdges" fill="url(#r9)"/><rect x="283.00" y="20" width="20.00" height="330" shape-rendering="crispEdges" fill="url(#r10)"/><rect x="303.00" y="20" width="20.00" height="330" shape-rendering="crispEdges" fill="url(#r11)"/><rect x="323.00" y="20" width="21.00" height="330" shape-rendering="crispEdges" fill="url(#r12)"/><rect x="344.00" y="20" width="20.00" height="330" shape-rendering="crispEdges" fill="url(#r13)"/><rect x="364.00" y="20" width="21.00" height="330" shape-rendering="crispEdges" fill="url(#r14)"/><rect x="385.00" y="20" width="20.00" height="330" shape-rendering="crispEdges" fill="url(#r15)"/></g>
<rect x="79.5" y="55.8" width="166" height="3.6" fill="#55c355"/>
<rect x="245" y="55.8" width="159" height="3.6" fill="#68c668"/>
<g clip-path="url(#cb)"><g transform="translate(81.5,123.6) rotate(-23.75)"><rect x="-20" y="-10.5" width="300" height="21" fill="url(#gbw)"/><rect x="-20" y="-9.5" width="300" height="19.0" fill="url(#gb)"/></g></g>
<rect x="81.5" y="24.6" width="321.9" height="321.59999999999997" fill="none" stroke="#5c5c5c" stroke-width="1.1"/>
<path d="M81.5 24.60h4.5M403.4 24.60h-4.5M81.5 49.58h4.5M403.4 49.58h-4.5M81.5 43.28h4.5M403.4 43.28h-4.5M81.5 38.82h4.5M403.4 38.82h-4.5M81.5 35.36h4.5M403.4 35.36h-4.5M81.5 32.53h4.5M403.4 32.53h-4.5M81.5 30.14h4.5M403.4 30.14h-4.5M81.5 28.06h4.5M403.4 28.06h-4.5M81.5 26.24h4.5M403.4 26.24h-4.5M81.5 60.33h4.5M403.4 60.33h-4.5M81.5 85.31h4.5M403.4 85.31h-4.5M81.5 79.02h4.5M403.4 79.02h-4.5M81.5 74.55h4.5M403.4 74.55h-4.5M81.5 71.09h4.5M403.4 71.09h-4.5M81.5 68.26h4.5M403.4 68.26h-4.5M81.5 65.87h4.5M403.4 65.87h-4.5M81.5 63.80h4.5M403.4 63.80h-4.5M81.5 61.97h4.5M403.4 61.97h-4.5M81.5 96.07h4.5M403.4 96.07h-4.5M81.5 121.04h4.5M403.4 121.04h-4.5M81.5 114.75h4.5M403.4 114.75h-4.5M81.5 110.29h4.5M403.4 110.29h-4.5M81.5 106.82h4.5M403.4 106.82h-4.5M81.5 103.99h4.5M403.4 103.99h-4.5M81.5 101.60h4.5M403.4 101.60h-4.5M81.5 99.53h4.5M403.4 99.53h-4.5M81.5 97.70h4.5M403.4 97.70h-4.5M81.5 131.80h4.5M403.4 131.80h-4.5M81.5 156.78h4.5M403.4 156.78h-4.5M81.5 150.48h4.5M403.4 150.48h-4.5M81.5 146.02h4.5M403.4 146.02h-4.5M81.5 142.56h4.5M403.4 142.56h-4.5M81.5 139.73h4.5M403.4 139.73h-4.5M81.5 137.34h4.5M403.4 137.34h-4.5M81.5 135.26h4.5M403.4 135.26h-4.5M81.5 133.44h4.5M403.4 133.44h-4.5M81.5 167.53h4.5M403.4 167.53h-4.5M81.5 192.51h4.5M403.4 192.51h-4.5M81.5 186.22h4.5M403.4 186.22h-4.5M81.5 181.75h4.5M403.4 181.75h-4.5M81.5 178.29h4.5M403.4 178.29h-4.5M81.5 175.46h4.5M403.4 175.46h-4.5M81.5 173.07h4.5M403.4 173.07h-4.5M81.5 171.00h4.5M403.4 171.00h-4.5M81.5 169.17h4.5M403.4 169.17h-4.5M81.5 203.27h4.5M403.4 203.27h-4.5M81.5 228.24h4.5M403.4 228.24h-4.5M81.5 221.95h4.5M403.4 221.95h-4.5M81.5 217.49h4.5M403.4 217.49h-4.5M81.5 214.02h4.5M403.4 214.02h-4.5M81.5 211.19h4.5M403.4 211.19h-4.5M81.5 208.80h4.5M403.4 208.80h-4.5M81.5 206.73h4.5M403.4 206.73h-4.5M81.5 204.90h4.5M403.4 204.90h-4.5M81.5 239.00h4.5M403.4 239.00h-4.5M81.5 263.98h4.5M403.4 263.98h-4.5M81.5 257.68h4.5M403.4 257.68h-4.5M81.5 253.22h4.5M403.4 253.22h-4.5M81.5 249.76h4.5M403.4 249.76h-4.5M81.5 246.93h4.5M403.4 246.93h-4.5M81.5 244.54h4.5M403.4 244.54h-4.5M81.5 242.46h4.5M403.4 242.46h-4.5M81.5 240.64h4.5M403.4 240.64h-4.5M81.5 274.73h4.5M403.4 274.73h-4.5M81.5 299.71h4.5M403.4 299.71h-4.5M81.5 293.42h4.5M403.4 293.42h-4.5M81.5 288.95h4.5M403.4 288.95h-4.5M81.5 285.49h4.5M403.4 285.49h-4.5M81.5 282.66h4.5M403.4 282.66h-4.5M81.5 280.27h4.5M403.4 280.27h-4.5M81.5 278.20h4.5M403.4 278.20h-4.5M81.5 276.37h4.5M403.4 276.37h-4.5M81.5 310.47h4.5M403.4 310.47h-4.5M81.5 335.44h4.5M403.4 335.44h-4.5M81.5 329.15h4.5M403.4 329.15h-4.5M81.5 324.69h4.5M403.4 324.69h-4.5M81.5 321.22h4.5M403.4 321.22h-4.5M81.5 318.39h4.5M403.4 318.39h-4.5M81.5 316.00h4.5M403.4 316.00h-4.5M81.5 313.93h4.5M403.4 313.93h-4.5M81.5 312.10h4.5M403.4 312.10h-4.5M81.5 346.20h4.5M403.4 346.20h-4.5M81.50 346.2v-4.5M81.50 24.6v4.5M114.86 346.2v-4.5M114.86 24.6v4.5M138.54 346.2v-4.5M138.54 24.6v4.5M156.90 346.2v-4.5M156.90 24.6v4.5M171.90 346.2v-4.5M171.90 24.6v4.5M184.58 346.2v-4.5M184.58 24.6v4.5M195.57 346.2v-4.5M195.57 24.6v4.5M205.26 346.2v-4.5M205.26 24.6v4.5M213.93 346.2v-4.5M213.93 24.6v4.5M270.97 346.2v-4.5M270.97 24.6v4.5M304.33 346.2v-4.5M304.33 24.6v4.5M328.00 346.2v-4.5M328.00 24.6v4.5M346.36 346.2v-4.5M346.36 24.6v4.5M361.37 346.2v-4.5M361.37 24.6v4.5M374.05 346.2v-4.5M374.05 24.6v4.5M385.04 346.2v-4.5M385.04 24.6v4.5M394.73 346.2v-4.5M394.73 24.6v4.5M403.40 346.2v-4.5M403.40 24.6v4.5" stroke="#5c5c5c" stroke-width="1" fill="none"/>
<polyline fill="none" stroke="#7b7f7f" stroke-width="3.2" stroke-dasharray="4.7 4.73" stroke-dashoffset="0.9" points="81.5,225.4 89.4,226.9 118.8,226.1 139,226.5 159.5,228.5 180,227.7 200,228.1 216.6,229.8 228.8,229.8 241,227.8 261.5,226.4 277.8,226.4 290,227.2 318.5,224.8 339,223.5 359.3,222.3 379.7,220.7 399,219.4"/>
<polyline fill="none" stroke="#000" stroke-width="3.4" stroke-dasharray="4.9 4.6" stroke-dashoffset="3.4" points="80.6,289.8 88.8,283.7 96.3,279 104.3,274.6 112.1,270.3 120.1,264.9 128.1,259.5 135.8,254.1 143.2,248.3 150.3,242.3 157.9,235.8 165.4,229.9 172.8,224.7 180.6,219.1 188.4,213.5 194.7,208.4 195.8,205.7 199.1,196.8 202.5,187.9 205.8,178.5 209.1,168.9 212.7,158.8"/>
<polygon points="222.7,167.3 228.5,162.3 234.3,167.3 228.5,172.3" fill="#ff0000"/>
<text x="74.8" y="32.10" text-anchor="end" font-weight="bold" font-size="20" fill="#5e5e5e">10<tspan font-size="17.5" dy="-6.2">0</tspan></text>
<text x="74.8" y="67.83" text-anchor="end" font-weight="bold" font-size="20" fill="#5e5e5e">10<tspan font-size="17.5" dy="-6.2">−1</tspan></text>
<text x="74.8" y="103.57" text-anchor="end" font-weight="bold" font-size="20" fill="#5e5e5e">10<tspan font-size="17.5" dy="-6.2">−2</tspan></text>
<text x="74.8" y="139.30" text-anchor="end" font-weight="bold" font-size="20" fill="#5e5e5e">10<tspan font-size="17.5" dy="-6.2">−3</tspan></text>
<text x="74.8" y="175.03" text-anchor="end" font-weight="bold" font-size="20" fill="#5e5e5e">10<tspan font-size="17.5" dy="-6.2">−4</tspan></text>
<text x="74.8" y="210.77" text-anchor="end" font-weight="bold" font-size="20" fill="#5e5e5e">10<tspan font-size="17.5" dy="-6.2">−5</tspan></text>
<text x="74.8" y="246.50" text-anchor="end" font-weight="bold" font-size="20" fill="#5e5e5e">10<tspan font-size="17.5" dy="-6.2">−6</tspan></text>
<text x="74.8" y="282.23" text-anchor="end" font-weight="bold" font-size="20" fill="#5e5e5e">10<tspan font-size="17.5" dy="-6.2">−7</tspan></text>
<text x="74.8" y="317.97" text-anchor="end" font-weight="bold" font-size="20" fill="#5e5e5e">10<tspan font-size="17.5" dy="-6.2">−8</tspan></text>
<text x="74.8" y="353.70" text-anchor="end" font-weight="bold" font-size="20" fill="#5e5e5e">10<tspan font-size="17.5" dy="-6.2">−9</tspan></text>
<text x="114.66" y="367.1" text-anchor="middle" font-weight="bold" font-size="20" fill="#5e5e5e">3</text>
<text x="213.73" y="367.1" text-anchor="middle" font-weight="bold" font-size="20" fill="#5e5e5e">10</text>
<text x="304.13" y="367.1" text-anchor="middle" font-weight="bold" font-size="20" fill="#5e5e5e">30</text>
<text x="403.20" y="367.1" text-anchor="middle" font-weight="bold" font-size="20" fill="#5e5e5e">100</text>
<text y="396.4" font-size="18.5" fill="#5e5e5e"><tspan x="197.6" font-style="italic">M</tspan><tspan x="212.6" font-style="italic" font-size="16.5" dy="3.2">Q</tspan><tspan x="231.2" dy="-3.2" font-weight="bold" font-size="18.8">in</tspan><tspan x="252.6" font-weight="bold" font-size="18.8">TeV</tspan></text>
<text transform="translate(19.6,253.2) rotate(-90)" font-size="18" font-weight="bold" fill="#5e5e5e"><tspan x="0">Abundances</tspan><tspan x="98.3" font-weight="normal" font-style="italic">Ω</tspan><tspan x="111.6" font-style="italic">h</tspan><tspan x="125.4" font-size="15" font-style="italic" dy="-7.4">2</tspan></text>
<text transform="translate(131.3,108.6) rotate(-20.5)" font-size="20" fill="#0a0a78">Ω<tspan font-style="italic" font-size="17" dy="5">QQ</tspan><tspan dy="-4.2" dx="0.5" font-style="italic" font-weight="bold" font-size="20.8">h</tspan><tspan font-size="16.5" font-weight="bold" dy="-7.5" dx="-0.8">2</tspan></text>
<text x="276.5" y="63.8" font-size="19" fill="#0b5a14">Ω<tspan font-weight="bold" font-size="16.3" dy="6">DM</tspan><tspan dy="-6" dx="1.6" font-style="italic" font-weight="bold" font-size="20.5">h</tspan><tspan font-size="16.5" font-weight="bold" dy="-7.8" dx="1.2">2</tspan></text>
<text transform="translate(241,193) rotate(-14.8)" font-size="20" fill="#7a0a18">Ω<tspan font-style="italic" font-size="17.5" dy="3.8" dx="-1">Q</tspan><tspan dy="-3.4" dx="-0.7" font-style="italic" font-weight="bold" font-size="20.5">h</tspan><tspan font-size="16.5" font-weight="bold" dy="-8.2" dx="-0.6">2</tspan></text>
<text transform="translate(164,224.5) rotate(-61)" font-size="14.7" font-weight="bold" fill="#000">Earth bounds?</text>
<text transform="translate(257.2,249.8) rotate(-2.6)" font-size="15.1" font-weight="bold" fill="#828282">Meteorites bounds?</text>
</g>
</svg></body></html>
